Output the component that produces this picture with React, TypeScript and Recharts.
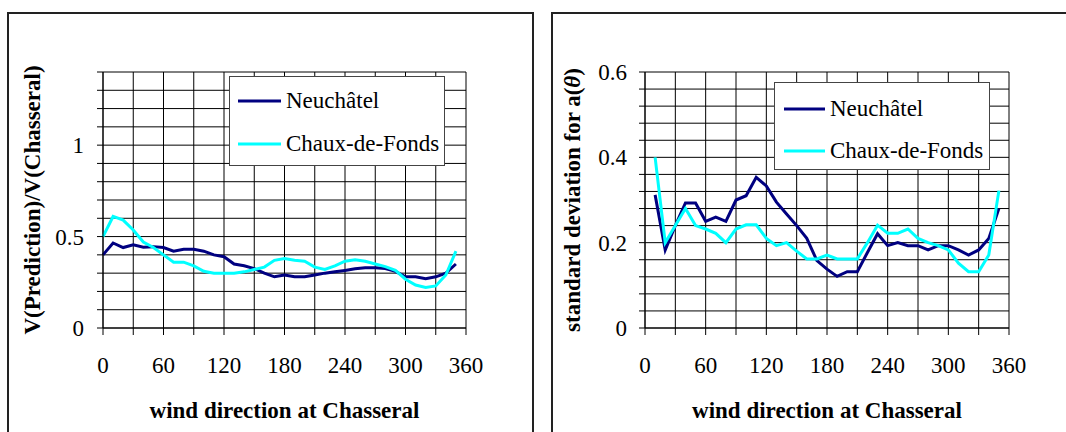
import React from 'react';
import { LineChart, Line, XAxis, YAxis, CartesianGrid, Legend } from 'recharts';

const FONT = '"Liberation Serif", "Times New Roman", serif';

const SERIES_NAMES = ['Neuchâtel', 'Chaux-de-Fonds'];
const SERIES_COLORS = ['#000080', '#00FFFF'];

const X_TITLE = 'wind direction at Chasseral';
const RATIO_TITLE = 'V(Prediction)/V(Chasseral)';
const STD_TITLE_MAIN = 'standard deviation for a(';
const STD_TITLE_SYMBOL = 'θ';
const STD_TITLE_END = ')';

const directionsRatio = [0, 10, 20, 30, 40, 50, 60, 70, 80, 90, 100, 110, 120, 130, 140, 150, 160, 170, 180, 190, 200, 210, 220, 230, 240, 250, 260, 270, 280, 290, 300, 310, 320, 330, 340, 350];
const neuchatelRatio = [0.40, 0.465, 0.44, 0.455, 0.442, 0.445, 0.44, 0.42, 0.43, 0.43, 0.42, 0.40, 0.39, 0.35, 0.34, 0.325, 0.30, 0.28, 0.29, 0.28, 0.28, 0.29, 0.30, 0.307, 0.315, 0.324, 0.33, 0.33, 0.325, 0.31, 0.28, 0.28, 0.27, 0.28, 0.30, 0.35];
const chauxRatio = [0.50, 0.61, 0.59, 0.536, 0.47, 0.44, 0.40, 0.36, 0.36, 0.34, 0.31, 0.30, 0.30, 0.30, 0.307, 0.32, 0.333, 0.37, 0.38, 0.37, 0.365, 0.333, 0.32, 0.34, 0.365, 0.373, 0.365, 0.35, 0.336, 0.315, 0.267, 0.235, 0.222, 0.23, 0.29, 0.42];

const directionsStd = [10, 20, 30, 40, 50, 60, 70, 80, 90, 100, 110, 120, 130, 140, 150, 160, 170, 180, 190, 200, 210, 220, 230, 240, 250, 260, 270, 280, 290, 300, 310, 320, 330, 340, 350];
const neuchatelStd = [0.312, 0.183, 0.24, 0.293, 0.293, 0.25, 0.26, 0.25, 0.30, 0.31, 0.353, 0.333, 0.295, 0.267, 0.24, 0.21, 0.158, 0.138, 0.121, 0.132, 0.132, 0.177, 0.221, 0.193, 0.20, 0.193, 0.193, 0.183, 0.193, 0.193, 0.183, 0.171, 0.183, 0.21, 0.28];
const chauxStd = [0.40, 0.20, 0.24, 0.28, 0.24, 0.232, 0.222, 0.20, 0.232, 0.242, 0.242, 0.21, 0.193, 0.20, 0.18, 0.162, 0.162, 0.171, 0.162, 0.162, 0.162, 0.20, 0.241, 0.222, 0.222, 0.232, 0.21, 0.20, 0.193, 0.183, 0.152, 0.132, 0.132, 0.171, 0.322];

const xTicks = [0, 30, 60, 90, 120, 150, 180, 210, 240, 270, 300, 330, 360];
const xLabelTicks = [0, 60, 120, 180, 240, 300, 360];
const ratioTicks = [0, 0.1, 0.2, 0.3, 0.4, 0.5, 0.6, 0.7, 0.8, 0.9, 1, 1.1, 1.2, 1.3, 1.4];
const ratioLabelTicks = [0, 0.5, 1];
const stdTicks = [0, 0.04, 0.08, 0.12, 0.16, 0.2, 0.24, 0.28, 0.32, 0.36, 0.4, 0.44, 0.48, 0.52, 0.56, 0.6];
const stdLabelTicks = [0, 0.2, 0.4, 0.6];

const ratioData = directionsRatio.map((d, i) => ({ deg: d, neuchatel: neuchatelRatio[i], chaux: chauxRatio[i] }));
const stdData = directionsStd.map((d, i) => ({ deg: d, neuchatel: neuchatelStd[i], chaux: chauxStd[i] }));

const isIn = (v: number, list: number[]) => list.some((t) => Math.abs(t - v) < 1e-9);

const makeXTick = (labels: number[]) => (props: any) => {
  const { x, y, payload } = props;
  if (!isIn(payload.value, labels)) return <g />;
  return (
    <text x={x} y={y} dy="0.71em" textAnchor="middle" fontFamily={FONT} fontSize={23} fill="#000">
      {String(payload.value)}
    </text>
  );
};

const makeYTick = (labels: number[]) => (props: any) => {
  const { x, y, payload } = props;
  if (!isIn(payload.value, labels)) return <g />;
  return (
    <text x={x} y={y} dy="0.355em" textAnchor="end" fontFamily={FONT} fontSize={23} fill="#000">
      {String(payload.value)}
    </text>
  );
};

const XTitle = (props: any) => {
  const vb = props.viewBox || {};
  const cx = (vb.x ?? 0) + (vb.width ?? 0) / 2;
  return (
    <text x={cx} y={418} textAnchor="middle" fontFamily={FONT} fontSize={23} fontWeight="bold" fill="#000">
      {X_TITLE}
    </text>
  );
};

const makeYTitle = (baselineX: number, content: React.ReactNode) => (props: any) => {
  const vb = props.viewBox || {};
  const cy = (vb.y ?? 0) + (vb.height ?? 0) / 2;
  return (
    <text
      transform={`translate(${baselineX},${cy}) rotate(-90)`}
      x={0}
      y={0}
      textAnchor="middle"
      fontFamily={FONT}
      fontSize={23}
      fontWeight="bold"
      fill="#000"
    >
      {content}
    </text>
  );
};

const makeLegend = (w: number, h: number, rows: number[], lineX0: number, lineX1: number, textX: number) => (props: any) => {
  const raw = (props.payload || []) as any[];
  const payload = [...raw].sort((a, b) => SERIES_NAMES.indexOf(a.value) - SERIES_NAMES.indexOf(b.value));
  return (
    <div style={{ width: w, height: h, background: '#fff', border: '1px solid #444', boxSizing: 'border-box' }}>
      <svg width={w - 2} height={h - 2} style={{ display: 'block' }}>
        {payload.map((p: any, i: number) => (
          <g key={i}>
            <line x1={lineX0} x2={lineX1} y1={rows[i]} y2={rows[i]} stroke={p.color} strokeWidth={3} />
            <text x={textX} y={rows[i] + 7} fontFamily={FONT} fontSize={23} fill="#000">
              {p.value}
            </text>
          </g>
        ))}
      </svg>
    </div>
  );
};

const frameStyle: React.CSSProperties = {
  position: 'absolute',
  border: '2px solid #222',
  boxSizing: 'border-box',
  height: 440,
};

export default function App() {
  return (
    <div style={{ position: 'absolute', left: 0, top: 0, width: 1066, height: 432, overflow: 'hidden', background: '#fff' }}>
      <div style={{ ...frameStyle, left: 7, top: 12, width: 527 }} />
      <div style={{ ...frameStyle, left: 551, top: 12, width: 540 }} />

      <div style={{ position: 'absolute', left: 0, top: 0 }}>
        <LineChart width={533} height={432} data={ratioData} margin={{ top: 72, right: 67, left: 0, bottom: 0 }}>
          <CartesianGrid stroke="#000" strokeWidth={1} />
          <XAxis
            type="number"
            dataKey="deg"
            domain={[0, 360]}
            ticks={xTicks}
            interval={0}
            height={104}
            tickSize={7}
            tickMargin={22}
            stroke="#000"
            tick={makeXTick(xLabelTicks)}
            label={{ content: XTitle }}
          />
          <YAxis
            type="number"
            domain={[0, 1.4]}
            ticks={ratioTicks}
            interval={0}
            width={103}
            tickSize={6}
            tickMargin={13}
            stroke="#000"
            tick={makeYTick(ratioLabelTicks)}
            label={{ content: makeYTitle(40, RATIO_TITLE) }}
          />
          <Legend
            layout="vertical"
            align="center"
            verticalAlign="middle"
            content={makeLegend(216, 90, [24, 67], 8, 51, 56)}
            wrapperStyle={{ position: 'absolute', left: 229, top: 76, width: 216, height: 90 }}
          />
          <Line name={SERIES_NAMES[0]} dataKey="neuchatel" stroke={SERIES_COLORS[0]} strokeWidth={3} dot={false} type="linear" isAnimationActive={false} />
          <Line name={SERIES_NAMES[1]} dataKey="chaux" stroke={SERIES_COLORS[1]} strokeWidth={3} dot={false} type="linear" isAnimationActive={false} />
        </LineChart>
      </div>

      <div style={{ position: 'absolute', left: 540, top: 0 }}>
        <LineChart width={526} height={432} data={stdData} margin={{ top: 72, right: 57, left: 0, bottom: 0 }}>
          <CartesianGrid stroke="#000" strokeWidth={1} />
          <XAxis
            type="number"
            dataKey="deg"
            domain={[0, 360]}
            ticks={xTicks}
            interval={0}
            height={104}
            tickSize={7}
            tickMargin={22}
            stroke="#000"
            tick={makeXTick(xLabelTicks)}
            label={{ content: XTitle }}
          />
          <YAxis
            type="number"
            domain={[0, 0.6]}
            ticks={stdTicks}
            interval={0}
            width={105}
            tickSize={6}
            tickMargin={12}
            stroke="#000"
            tick={makeYTick(stdLabelTicks)}
            label={{
              content: makeYTitle(
                40,
                <>
                  {STD_TITLE_MAIN}
                  <tspan fontStyle="italic">{STD_TITLE_SYMBOL}</tspan>
                  {STD_TITLE_END}
                </>
              ),
            }}
          />
          <Legend
            layout="vertical"
            align="center"
            verticalAlign="middle"
            content={makeLegend(216, 88, [26, 68], 9, 50, 55)}
            wrapperStyle={{ position: 'absolute', left: 234, top: 82, width: 216, height: 88 }}
          />
          <Line name={SERIES_NAMES[0]} dataKey="neuchatel" stroke={SERIES_COLORS[0]} strokeWidth={3} dot={false} type="linear" isAnimationActive={false} />
          <Line name={SERIES_NAMES[1]} dataKey="chaux" stroke={SERIES_COLORS[1]} strokeWidth={3} dot={false} type="linear" isAnimationActive={false} />
        </LineChart>
      </div>
    </div>
  );
}
